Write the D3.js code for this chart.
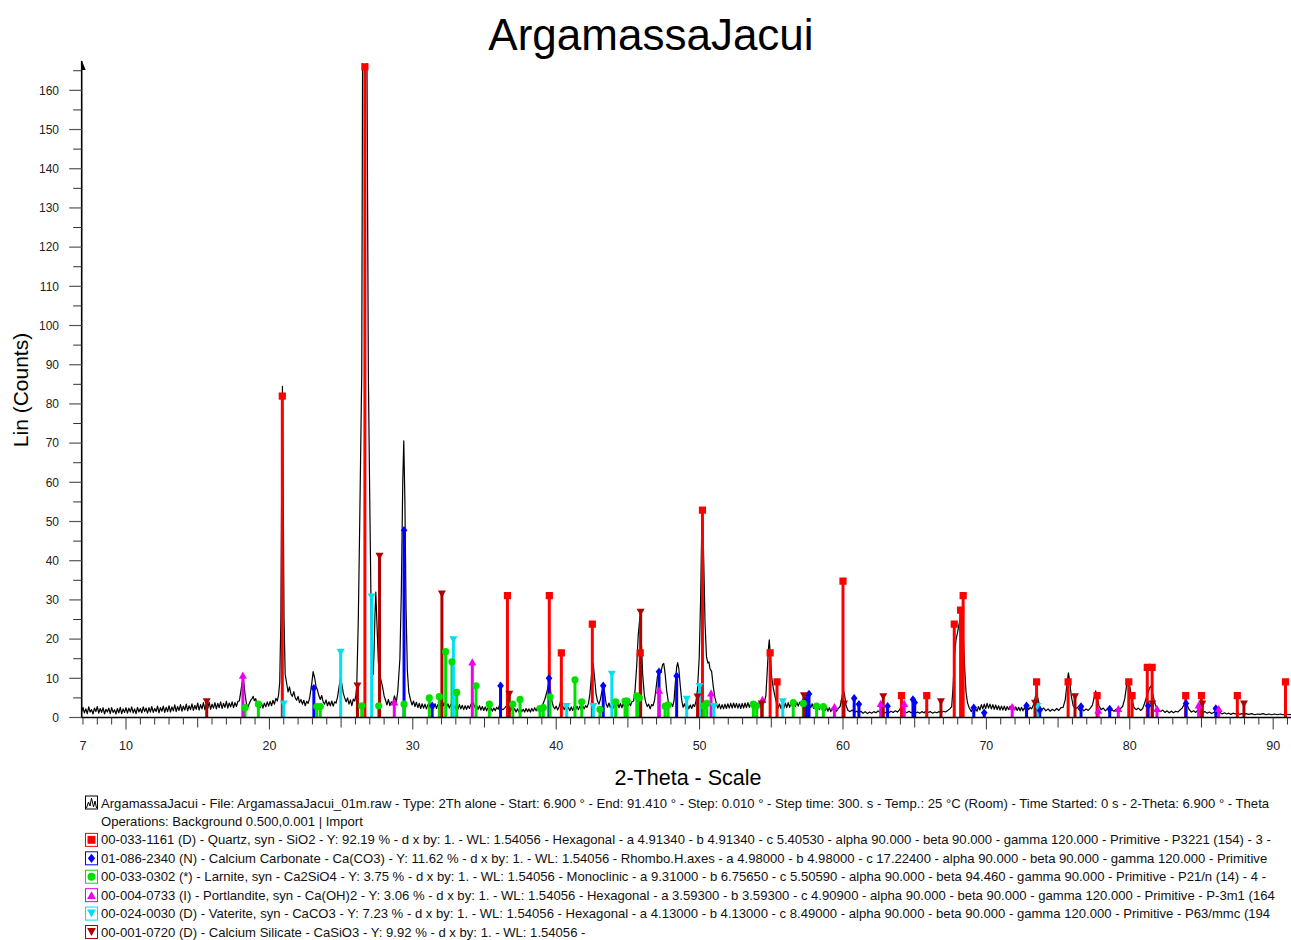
<!DOCTYPE html>
<html><head><meta charset="utf-8">
<script src="https://cdn.jsdelivr.net/npm/d3@7"></script>
<style>
body{margin:0;background:#fff;}
svg{display:block;font-family:"Liberation Sans",Arial,sans-serif;}
</style>
</head><body>
<svg id="c" width="1291" height="940"></svg>
<script>
const chartTitle = "ArgamassaJacui";
const xAxisTitle = "2-Theta - Scale";
const yAxisTitle = "Lin (Counts)";
const xTickLabels = [7,10,20,30,40,50,60,70,80,90];
const yTickLabels = [0,10,20,30,40,50,60,70,80,90,100,110,120,130,140,150,160];

// measured scan [2-theta, counts]
const scan = [
[6.9,1.3],[7.0,2.6],[7.1,1.2],[7.2,2.2],[7.3,1.0],[7.4,2.7],[7.5,1.4],[7.6,2.0],[7.7,0.9],[7.8,2.4],[7.9,1.5],[8.0,2.8],[8.1,1.1],[8.2,2.3],[8.3,1.3],[8.4,2.5],[8.5,0.9],[8.6,2.1],[8.7,1.4],[8.8,2.4],[8.9,1.0],[9.0,2.5],[9.1,1.3],[9.2,2.0],[9.3,0.9],[9.4,2.3],[9.5,1.2],[9.6,2.6],[9.7,1.0],[9.8,2.2],[9.9,1.3],[10.0,2.5],[10.1,1.1],[10.2,2.4],[10.3,1.4],[10.4,2.7],[10.5,1.2],[10.6,2.2],[10.7,1.0],[10.8,2.6],[10.9,1.4],[11.0,2.3],[11.1,1.2],[11.2,2.7],[11.3,1.5],[11.4,2.4],[11.5,1.1],[11.6,2.5],[11.7,1.4],[11.8,2.8],[11.9,1.3],[12.0,2.3],[12.1,1.5],[12.2,2.9],[12.3,1.2],[12.4,2.5],[12.5,1.6],[12.6,2.9],[12.7,1.3],[12.8,2.6],[12.9,1.5],[13.0,3.0],[13.1,1.4],[13.2,2.7],[13.3,1.7],[13.4,3.2],[13.5,1.5],[13.6,2.8],[13.7,1.8],[13.8,3.3],[13.9,1.6],[14.0,2.9],[14.1,1.9],[14.2,3.4],[14.3,1.7],[14.4,3.0],[14.5,2.0],[14.6,3.5],[14.7,1.8],[14.8,3.1],[14.9,2.1],[15.0,3.7],[15.1,1.9],[15.2,3.3],[15.3,2.2],[15.4,3.8],[15.5,2.0],[15.6,3.5],[15.7,2.3],[15.8,3.9],[15.9,2.1],[16.0,3.4],[16.1,2.4],[16.2,3.8],[16.3,2.2],[16.4,3.6],[16.5,2.5],[16.6,4.0],[16.7,2.3],[16.8,3.6],[16.9,2.6],[17.0,4.1],[17.1,2.4],[17.2,3.7],[17.3,2.7],[17.4,4.0],[17.5,2.5],[17.6,3.8],[17.7,2.8],[17.8,4.1],[17.9,4.2],[18.0,6.5],[18.1,9.0],[18.2,9.5],[18.3,6.0],[18.4,3.5],[18.5,2.6],[18.6,3.6],[18.7,4.4],[18.8,4.9],[18.87,5.4],[18.95,4.3],[19.05,4.8],[19.15,2.8],[19.25,3.9],[19.35,2.5],[19.45,3.6],[19.55,2.4],[19.65,3.7],[19.75,2.7],[19.85,4.0],[19.95,2.9],[20.05,4.1],[20.15,3.0],[20.25,4.4],[20.35,3.4],[20.45,4.9],[20.55,4.2],[20.64,5.8],[20.72,9],[20.8,25],[20.86,60],[20.91,84.5],[20.96,60],[21.02,25],[21.1,11],[21.2,8.8],[21.3,6.5],[21.4,7.8],[21.5,6.0],[21.6,5.4],[21.7,6.6],[21.8,5.0],[21.9,4.4],[22.0,5.4],[22.1,3.8],[22.2,4.6],[22.3,3.4],[22.4,4.4],[22.5,3.0],[22.6,4.1],[22.7,3.6],[22.8,4.9],[22.95,8.5],[23.05,11.7],[23.15,10.2],[23.25,8.0],[23.35,7.0],[23.45,5.6],[23.55,4.6],[23.65,5.6],[23.75,4.0],[23.85,3.4],[23.95,4.5],[24.05,3.0],[24.15,4.0],[24.25,3.0],[24.35,4.2],[24.45,2.9],[24.55,4.0],[24.65,3.7],[24.75,5.2],[24.85,7.6],[24.95,10.0],[25.05,8.6],[25.15,6.2],[25.25,5.0],[25.35,4.0],[25.45,5.0],[25.55,3.4],[25.65,4.5],[25.75,3.0],[25.85,4.7],[25.95,4.2],[26.03,5.6],[26.09,8],[26.2,25],[26.3,50],[26.44,88],[26.5,170],[26.66,420],[26.8,170],[26.9,88],[27.0,55],[27.1,25],[27.18,12],[27.24,11],[27.3,17],[27.36,26],[27.42,32],[27.5,24],[27.6,14],[27.75,10],[27.88,8],[28.0,5.5],[28.1,4.4],[28.2,3.2],[28.3,4.6],[28.4,3.0],[28.5,4.0],[28.6,3.6],[28.72,5.5],[28.85,4.0],[28.95,6.5],[29.1,15],[29.2,32],[29.3,60],[29.37,70.6],[29.45,55],[29.53,28],[29.62,12],[29.72,6.5],[29.85,4.4],[29.95,3.2],[30.05,4.2],[30.15,2.8],[30.25,3.9],[30.35,2.5],[30.45,3.6],[30.55,2.3],[30.65,3.5],[30.75,2.4],[30.85,3.4],[30.95,2.2],[31.05,3.3],[31.15,2.3],[31.25,3.4],[31.35,3.6],[31.45,2.4],[31.55,3.5],[31.65,2.3],[31.75,3.3],[31.85,2.4],[31.95,3.6],[32.05,4.2],[32.15,3.0],[32.25,4.0],[32.35,2.6],[32.45,3.5],[32.55,2.4],[32.65,3.4],[32.75,2.3],[32.85,3.3],[32.95,2.2],[33.05,3.2],[33.15,2.1],[33.25,3.3],[33.35,2.2],[33.45,3.1],[33.55,2.0],[33.65,3.0],[33.75,2.1],[33.85,3.0],[33.95,2.3],[34.05,3.3],[34.15,4.0],[34.25,3.4],[34.35,2.4],[34.45,3.1],[34.55,2.0],[34.65,3.0],[34.75,1.9],[34.85,2.8],[34.95,1.8],[35.05,2.7],[35.15,1.7],[35.25,2.6],[35.35,1.6],[35.45,2.5],[35.55,1.6],[35.65,2.4],[35.75,1.7],[35.85,2.6],[35.95,2.1],[36.05,3.2],[36.15,2.3],[36.3,2.0],[36.45,2.6],[36.6,3.3],[36.7,2.4],[36.8,1.6],[36.9,2.5],[37.0,1.5],[37.1,2.3],[37.2,1.4],[37.3,2.2],[37.4,1.4],[37.5,2.3],[37.6,1.5],[37.7,2.1],[37.8,1.4],[37.9,2.3],[38.0,1.5],[38.1,2.2],[38.2,1.4],[38.3,2.3],[38.4,1.6],[38.5,2.5],[38.6,1.7],[38.7,2.6],[38.8,1.9],[38.9,2.4],[39.05,3.2],[39.2,4.6],[39.35,6.5],[39.5,9.1],[39.6,7.0],[39.7,4.2],[39.8,2.8],[39.9,2.2],[40.0,2.9],[40.1,1.9],[40.2,2.7],[40.33,4.5],[40.45,3.0],[40.55,2.0],[40.65,2.8],[40.75,1.7],[40.85,2.6],[40.95,1.7],[41.05,2.7],[41.15,1.8],[41.25,2.8],[41.35,1.9],[41.45,2.9],[41.55,2.0],[41.65,2.9],[41.75,2.1],[41.85,3.0],[41.95,2.2],[42.05,3.0],[42.15,2.6],[42.25,3.6],[42.35,6.0],[42.48,11.5],[42.58,13.8],[42.68,10.0],[42.78,6.0],[42.88,4.2],[42.98,3.4],[43.08,4.6],[43.18,6.5],[43.28,8.3],[43.38,6.2],[43.48,3.5],[43.58,2.6],[43.68,3.7],[43.78,2.5],[43.88,3.5],[43.98,2.4],[44.08,3.5],[44.18,2.4],[44.28,3.7],[44.38,2.5],[44.48,3.6],[44.58,2.5],[44.68,3.6],[44.78,2.6],[44.88,3.8],[44.98,2.8],[45.08,3.9],[45.18,3.0],[45.28,4.0],[45.4,4.2],[45.5,7.0],[45.62,13.5],[45.72,21],[45.84,25.7],[45.93,20],[46.03,11],[46.15,5.6],[46.25,3.8],[46.35,2.8],[46.45,3.4],[46.55,2.2],[46.65,3.3],[46.75,3.0],[46.85,4.2],[46.95,7.0],[47.05,10.2],[47.19,12.1],[47.3,11.5],[47.42,13.5],[47.5,13.8],[47.6,11.0],[47.7,7.0],[47.82,4.0],[47.92,2.6],[48.02,3.6],[48.12,2.8],[48.22,4.4],[48.3,8.5],[48.4,12.8],[48.47,14.0],[48.55,12.5],[48.65,8.2],[48.75,4.5],[48.85,2.6],[48.95,3.5],[49.05,2.3],[49.15,3.3],[49.25,2.2],[49.35,3.2],[49.45,2.3],[49.55,3.3],[49.65,2.8],[49.75,4.2],[49.85,7.0],[49.97,15],[50.07,30],[50.15,48],[50.21,51.7],[50.29,40],[50.38,24],[50.48,15.5],[50.58,13.9],[50.65,14.2],[50.72,12.5],[50.84,11.7],[50.95,8.0],[51.07,5.0],[51.17,3.6],[51.27,2.4],[51.37,3.4],[51.47,2.2],[51.57,3.3],[51.67,2.2],[51.77,3.4],[51.87,2.3],[51.97,3.5],[52.07,2.4],[52.17,3.6],[52.27,2.4],[52.37,3.7],[52.47,2.5],[52.57,3.6],[52.67,2.4],[52.77,3.5],[52.87,2.3],[52.97,3.6],[53.07,2.4],[53.17,3.7],[53.27,2.5],[53.37,3.8],[53.47,2.6],[53.57,3.8],[53.67,2.6],[53.77,3.7],[53.87,2.5],[53.97,3.6],[54.07,2.6],[54.17,3.5],[54.27,2.7],[54.37,3.6],[54.5,3.8],[54.62,5.5],[54.72,12],[54.8,17.5],[54.86,19.8],[54.93,16],[55.02,10.5],[55.12,7.9],[55.25,5.5],[55.38,3.4],[55.48,2.4],[55.58,3.5],[55.68,2.3],[55.78,3.4],[55.88,2.4],[55.98,3.7],[56.08,2.5],[56.18,3.8],[56.28,2.6],[56.38,3.9],[56.48,2.7],[56.58,4.0],[56.68,2.8],[56.78,3.9],[56.88,2.9],[56.98,3.9],[57.08,3.2],[57.18,4.4],[57.3,5.4],[57.42,6.0],[57.55,4.8],[57.65,3.6],[57.75,2.5],[57.85,3.5],[57.95,2.3],[58.05,3.3],[58.15,2.2],[58.25,3.2],[58.35,2.0],[58.45,3.0],[58.55,1.9],[58.65,2.8],[58.75,1.7],[58.85,2.6],[58.95,1.6],[59.05,2.5],[59.15,1.5],[59.25,2.4],[59.35,1.5],[59.45,2.3],[59.55,1.6],[59.65,2.2],[59.8,2.8],[59.92,5.0],[60.02,7.2],[60.12,5.5],[60.22,3.0],[60.35,1.8],[60.5,1.5],[60.65,1.9],[60.8,1.3],[60.95,1.6],[61.1,1.2],[61.25,1.6],[61.4,1.1],[61.55,1.5],[61.7,1.0],[61.85,1.4],[62.0,1.1],[62.15,1.5],[62.3,1.2],[62.45,1.7],[62.6,1.2],[62.75,1.6],[62.9,1.1],[63.05,1.5],[63.2,1.2],[63.35,1.6],[63.5,1.3],[63.65,1.7],[63.8,1.4],[63.95,2.0],[64.05,2.6],[64.15,2.0],[64.3,1.5],[64.45,1.2],[64.6,1.6],[64.75,1.2],[64.9,1.5],[65.05,1.1],[65.2,1.4],[65.35,1.1],[65.5,1.5],[65.65,1.2],[65.8,1.7],[65.95,1.3],[66.1,1.5],[66.25,1.1],[66.4,1.4],[66.55,1.2],[66.7,1.5],[66.85,1.3],[67.0,1.6],[67.15,1.4],[67.3,1.8],[67.45,2.2],[67.58,2.8],[67.68,8],[67.78,16],[67.88,19.8],[67.98,21.5],[68.08,23.5],[68.16,24.9],[68.28,26.6],[68.38,22],[68.48,13],[68.58,6.5],[68.68,3.8],[68.8,2.5],[68.95,1.5],[69.05,2.4],[69.15,1.3],[69.25,2.2],[69.35,1.6],[69.45,2.8],[69.55,1.9],[69.65,3.3],[69.75,2.2],[69.85,3.4],[69.95,2.3],[70.05,3.6],[70.15,2.4],[70.25,3.4],[70.35,2.2],[70.45,3.3],[70.55,2.1],[70.65,3.2],[70.75,2.0],[70.85,3.0],[70.95,1.9],[71.05,2.9],[71.15,1.9],[71.25,2.9],[71.35,1.8],[71.45,2.8],[71.55,2.0],[71.65,2.9],[71.75,2.1],[71.85,3.0],[71.95,1.9],[72.05,2.7],[72.15,1.8],[72.25,2.6],[72.35,1.7],[72.45,2.6],[72.55,1.7],[72.65,2.5],[72.75,1.8],[72.85,2.6],[72.95,2.0],[73.05,2.6],[73.15,2.2],[73.3,3.4],[73.42,5.4],[73.5,6.2],[73.6,4.8],[73.72,2.8],[73.85,2.0],[74.0,2.4],[74.15,1.7],[74.3,2.2],[74.45,1.6],[74.6,2.1],[74.75,1.7],[74.9,2.3],[75.05,1.8],[75.2,2.5],[75.35,2.6],[75.5,4.5],[75.62,8.5],[75.72,11.4],[75.8,9.5],[75.92,5.5],[76.05,3.0],[76.2,2.2],[76.35,2.6],[76.5,1.8],[76.65,2.4],[76.8,1.7],[76.95,2.2],[77.1,1.8],[77.25,2.4],[77.4,3.2],[77.52,5.2],[77.62,6.8],[77.72,5.5],[77.85,3.0],[78.0,2.0],[78.15,2.4],[78.3,1.7],[78.45,2.2],[78.6,1.6],[78.75,2.0],[78.9,1.6],[79.05,2.1],[79.2,1.8],[79.35,2.3],[79.5,2.8],[79.65,4.8],[79.78,8.2],[79.9,9.4],[80.02,7.5],[80.15,4.5],[80.3,2.5],[80.45,2.0],[80.6,2.4],[80.75,1.8],[80.9,2.3],[81.02,3.5],[81.15,5.0],[81.28,6.5],[81.4,7.6],[81.48,8.0],[81.6,6.0],[81.72,4.0],[81.85,2.6],[82.0,2.0],[82.15,1.5],[82.3,1.9],[82.45,1.3],[82.6,1.7],[82.75,1.2],[82.9,1.6],[83.05,1.2],[83.2,1.6],[83.35,1.4],[83.5,1.9],[83.65,2.4],[83.8,3.4],[83.9,3.8],[84.0,3.2],[84.15,2.0],[84.3,1.4],[84.45,1.7],[84.6,1.3],[84.75,1.9],[84.85,2.4],[84.95,1.8],[85.1,1.3],[85.25,1.5],[85.4,1.1],[85.55,1.4],[85.7,1.0],[85.85,1.3],[86.0,1.5],[86.15,1.1],[86.3,1.3],[86.45,0.9],[86.6,1.2],[86.75,0.9],[86.9,1.1],[87.05,0.8],[87.2,1.1],[87.35,0.9],[87.5,1.2],[87.65,0.8],[87.8,1.0],[87.95,0.8],[88.1,1.0],[88.3,0.8],[88.5,1.0],[88.7,0.7],[88.9,0.9],[89.1,0.8],[89.3,1.0],[89.5,0.7],[89.7,0.9],[89.9,0.7],[90.1,0.9],[90.3,0.7],[90.5,0.9],[90.7,0.7],[90.9,0.9],[91.1,0.7],[91.3,0.8],[91.41,0.7]
];

// reference patterns [2-theta, stick height]
const quartzSticks = [[20.9,82],[26.66,166],[36.6,31.1],[39.52,31.1],[40.36,16.5],[42.52,23.8],[45.86,16.5],[50.2,52.9],[54.92,16.5],[55.4,9.1],[60.0,34.8],[64.08,5.6],[65.84,5.6],[67.76,23.8],[68.2,27.4],[68.38,31.1],[73.5,9.1],[75.7,9.1],[77.72,5.6],[79.93,9.1],[80.16,5.6],[81.22,12.8],[81.56,12.8],[83.9,5.6],[85.0,5.6],[87.5,5.6],[90.86,9.1]];
const calciteSticks = [[23.1,7.5],[29.39,47.8],[31.35,3.0],[36.12,8.1],[39.5,10.0],[43.28,8.1],[47.17,11.7],[48.4,10.6],[57.45,4.5],[57.63,6.0],[60.78,4.9],[61.11,3.4],[63.11,2.9],[64.88,4.6],[65.0,3.8],[69.12,2.5],[69.85,1.2],[72.8,3.0],[73.72,1.9],[76.6,2.8],[78.6,2.2],[81.28,3.0],[83.92,3.6],[86.0,2.3]];
const larniteSticks = [[18.3,2.5],[19.23,3.4],[23.3,2.8],[23.55,2.8],[26.44,3.0],[27.62,3.0],[29.39,3.4],[31.15,5.0],[31.85,5.3],[32.29,16.8],[32.73,14.2],[33.06,6.4],[34.41,8.1],[35.34,3.4],[36.97,3.4],[37.48,4.6],[38.87,2.3],[39.1,2.5],[39.57,5.3],[41.31,9.6],[41.78,4.0],[43.05,2.1],[44.15,4.0],[44.8,4.2],[44.95,4.2],[45.62,5.5],[45.8,5.0],[47.59,2.9],[47.8,3.2],[50.3,3.0],[50.5,3.6],[53.75,3.4],[53.98,3.0],[56.53,3.8],[57.23,3.6],[58.16,2.9],[58.63,2.8]];
const portlanditeSticks = [[18.15,10.8],[28.71,4.0],[34.15,14.2],[47.18,7.0],[50.8,6.3],[54.38,4.6],[59.4,2.8],[62.63,3.6],[64.27,3.6],[71.8,2.8],[77.8,1.9],[79.2,2.3],[81.9,2.3],[84.8,3.2],[86.2,2.3]];
const vateriteSticks = [[21.0,3.4],[24.97,16.6],[27.13,30.7],[32.83,19.8],[40.73,2.8],[42.59,2.8],[43.88,11.0],[49.1,4.6],[50.0,7.9],[51.0,2.8],[55.8,4.0],[73.55,2.8]];
const caSiO3Sticks = [[15.63,4.0],[26.14,8.0],[27.68,41.1],[32.03,31.5],[36.73,5.9],[45.89,26.8],[49.86,5.2],[54.33,3.4],[57.28,5.5],[60.07,3.4],[62.81,5.3],[66.83,4.0],[73.39,3.6],[76.18,5.3],[81.57,3.4],[85.06,3.4],[87.96,3.4]];

const scanLegend = "ArgamassaJacui - File: ArgamassaJacui_01m.raw - Type: 2Th alone - Start: 6.900 ° - End: 91.410 ° - Step: 0.010 ° - Step time: 300. s - Temp.: 25 °C (Room) - Time Started: 0 s - 2-Theta: 6.900 ° - Theta";
const operationsLegend = "Operations: Background 0.500,0.001 | Import";
const phaseNames = [
"00-033-1161 (D) - Quartz, syn - SiO2 - Y: 92.19 % - d x by: 1. - WL: 1.54056 - Hexagonal - a 4.91340 - b 4.91340 - c 5.40530 - alpha 90.000 - beta 90.000 - gamma 120.000 - Primitive - P3221 (154) - 3 -",
"01-086-2340 (N) - Calcium Carbonate - Ca(CO3) - Y: 11.62 % - d x by: 1. - WL: 1.54056 - Rhombo.H.axes - a 4.98000 - b 4.98000 - c 17.22400 - alpha 90.000 - beta 90.000 - gamma 120.000 - Primitive",
"00-033-0302 (*) - Larnite, syn - Ca2SiO4 - Y: 3.75 % - d x by: 1. - WL: 1.54056 - Monoclinic - a 9.31000 - b 6.75650 - c 5.50590 - alpha 90.000 - beta 94.460 - gamma 90.000 - Primitive - P21/n (14) - 4 -",
"00-004-0733 (I) - Portlandite, syn - Ca(OH)2 - Y: 3.06 % - d x by: 1. - WL: 1.54056 - Hexagonal - a 3.59300 - b 3.59300 - c 4.90900 - alpha 90.000 - beta 90.000 - gamma 120.000 - Primitive - P-3m1 (164",
"00-024-0030 (D) - Vaterite, syn - CaCO3 - Y: 7.23 % - d x by: 1. - WL: 1.54056 - Hexagonal - a 4.13000 - b 4.13000 - c 8.49000 - alpha 90.000 - beta 90.000 - gamma 120.000 - Primitive - P63/mmc (194",
"00-001-0720 (D) - Calcium Silicate - CaSiO3 - Y: 9.92 % - d x by: 1. - WL: 1.54056 -"
];
const phaseColors = ["#ff0000","#0000ff","#00e000","#ee00ee","#00e0f0","#b00000"];
const phaseSymbols = ["square","diamond","circle","triUp","triDown","triDown"];

// ---------- drawing ----------
const svg = d3.select("#c");
const x = d3.scaleLinear().domain([6.9, 91.41]).range([81.55, 1293.4]);
const y = d3.scaleLinear().domain([0, 167]).range([717.5, 62.9]);

svg.append("defs").append("clipPath").attr("id","plotclip")
  .append("rect").attr("x",80).attr("y",y(167)).attr("width",1215).attr("height",y(0)-y(167)+1);

function symbolPath(kind, cx, cy, s){
  s = s || 1;
  switch(kind){
    case "square": { const h=3.6*s; return `M${cx-h},${cy-h}H${cx+h}V${cy+h}H${cx-h}Z`; }
    case "diamond": { const w=3.3*s,h=4.2*s; return `M${cx},${cy-h}L${cx+w},${cy}L${cx},${cy+h}L${cx-w},${cy}Z`; }
    case "circle": { const r=3.6*s; return `M${cx-r},${cy}A${r},${r} 0 1,0 ${cx+r},${cy}A${r},${r} 0 1,0 ${cx-r},${cy}Z`; }
    case "triUp": { const w=4*s,h=3.6*s; return `M${cx},${cy-h}L${cx+w},${cy+h}L${cx-w},${cy+h}Z`; }
    case "triDown": { const w=4*s,h=3.6*s; return `M${cx-w},${cy-h}L${cx+w},${cy-h}L${cx},${cy+h}Z`; }
  }
}

const plot = svg.append("g").attr("clip-path","url(#plotclip)");

// scan trace
plot.append("path").datum(scan)
  .attr("fill","none").attr("stroke","#000").attr("stroke-width",1.2).attr("stroke-linejoin","round")
  .attr("d", d3.line().x(d=>x(d[0])).y(d=>y(d[1])));

// sticks
const phases = [quartzSticks, calciteSticks, larniteSticks, portlanditeSticks, vateriteSticks, caSiO3Sticks];
phases.forEach((arr,i)=>{
  plot.append("g").selectAll("line").data(arr).join("line")
    .attr("x1",d=>x(d[0])).attr("x2",d=>x(d[0]))
    .attr("y1",y(0)).attr("y2",d=>y(d[1]))
    .attr("stroke",phaseColors[i]).attr("stroke-width",3);
});
phases.forEach((arr,i)=>{
  plot.append("g").selectAll("path").data(arr).join("path")
    .attr("d",d=>symbolPath(phaseSymbols[i], x(d[0]), y(d[1])))
    .attr("fill",phaseColors[i]);
});

// x axis
const xAxisG = svg.append("g").attr("transform",`translate(0,${y(0)})`);
xAxisG.append("line").attr("x1",x(6.9)).attr("x2",1291).attr("y1",0).attr("y2",0).attr("stroke","#000").attr("stroke-width",1.5);
const xMinor = d3.range(7, 92, 1);
xAxisG.selectAll("line.minor").data(xMinor).join("line").attr("class","minor")
  .attr("x1",d=>x(d)).attr("x2",d=>x(d)).attr("y1",0)
  .attr("y2",d=> (d%10===0)?12:(d%5===0?10:7))
  .attr("stroke","#333").attr("stroke-width",1);
xAxisG.selectAll("text").data(xTickLabels).join("text")
  .attr("x",d=>x(d)).attr("y",32).attr("text-anchor","middle")
  .attr("font-size","12.5px").attr("fill","#222").text(d=>d);

// y axis
const yAxisG = svg.append("g").attr("transform",`translate(81.7,0)`);
yAxisG.append("line").attr("x1",0).attr("x2",0).attr("y1",y(0)+0.5).attr("y2",61).attr("stroke","#000").attr("stroke-width",1.6);
yAxisG.append("path").attr("d","M0,60.5L4,70L0,70Z").attr("fill","#000");
const yMinor = d3.range(5, 170, 10);
yAxisG.selectAll("line.minor").data(yMinor).join("line").attr("class","minor")
  .attr("x1",-8.5).attr("x2",0).attr("y1",d=>y(d)).attr("y2",d=>y(d)).attr("stroke","#333").attr("stroke-width",1);
yAxisG.selectAll("line.major").data(yTickLabels).join("line").attr("class","major")
  .attr("x1",-12.5).attr("x2",0).attr("y1",d=>y(d)).attr("y2",d=>y(d)).attr("stroke","#555").attr("stroke-width",1.2);
yAxisG.selectAll("text").data(yTickLabels).join("text")
  .attr("x",-22.7).attr("y",d=>y(d)+4.2).attr("text-anchor","end")
  .attr("font-size","12px").attr("fill","#222").text(d=>d);

// titles
svg.append("text").attr("x",651).attr("y",50).attr("text-anchor","middle")
  .attr("font-size","44px").attr("fill","#000").text(chartTitle);
svg.append("text").attr("x",688).attr("y",785).attr("text-anchor","middle")
  .attr("font-size","21.5px").attr("fill","#000").text(xAxisTitle);
svg.append("text").attr("transform","translate(28,390) rotate(-90)").attr("text-anchor","middle")
  .attr("font-size","21px").attr("fill","#000").text(yAxisTitle);

// legend
const leg = svg.append("g");
const rowY = d3.range(8).map(i=>803 + i*18.43);
leg.append("rect").attr("x",85.5).attr("y",rowY[0]-7).attr("width",12).attr("height",13).attr("fill","#fff").attr("stroke","#000").attr("stroke-width",1);
leg.append("path").attr("d",`M86.5,${rowY[0]+5}L88.5,${rowY[0]-1}L90,${rowY[0]+3}L91.5,${rowY[0]-5}L93.5,${rowY[0]+4}L95,${rowY[0]-2}L96.5,${rowY[0]+5}`)
  .attr("fill","none").attr("stroke","#000").attr("stroke-width",1);
const legendFont = "13.1px";
leg.append("text").attr("x",101).attr("y",rowY[0]+4.6).attr("font-size",legendFont).attr("fill","#111").text(scanLegend);
leg.append("text").attr("x",101).attr("y",rowY[1]+4.6).attr("font-size",legendFont).attr("fill","#111").text(operationsLegend);
phaseNames.forEach((name,i)=>{
  const cy = rowY[i+2];
  leg.append("rect").attr("x",85.5).attr("y",cy-6.5).attr("width",12).attr("height",13).attr("fill","#fff").attr("stroke",phaseColors[i]).attr("stroke-width",1);
  leg.append("path").attr("d",symbolPath(phaseSymbols[i],91.5,cy,1.1)).attr("fill",phaseColors[i]);
  leg.append("text").attr("x",101).attr("y",cy+4.6).attr("font-size",legendFont).attr("fill","#111").text(name);
});
</script>
</body></html>
